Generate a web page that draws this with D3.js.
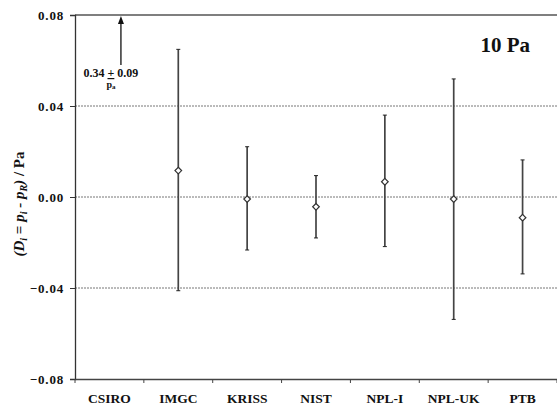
<!DOCTYPE html>
<html><head><meta charset="utf-8">
<script src="https://cdn.jsdelivr.net/npm/d3@7"></script>
<style>body{margin:0;background:#fff;}svg{display:block;}</style>
</head><body>
<svg id="c" width="557" height="408"></svg>
<script>
const categories = ["CSIRO","IMGC","KRISS","NIST","NPL-I","NPL-UK","PTB"];
const values = [null, 0.0116, -0.0009, -0.0043, 0.0067, -0.0009, -0.0091];
const upper = [null, 0.0649, 0.0221, 0.0094, 0.0360, 0.0519, 0.0163];
const lower = [null, -0.0412, -0.0233, -0.0180, -0.0218, -0.0538, -0.0338];
const yTicks = [0.08, 0.04, 0.00, -0.04, -0.08];
const gridTicks = [0.04, 0.00, -0.04];

const svg = d3.select("#c");
const x = d3.scaleBand().domain(categories).range([75, 557]).padding(0);
const y = d3.scaleLinear().domain([-0.08, 0.08]).range([379, 15]);

// grid
svg.selectAll(".grid").data(gridTicks).enter().append("line")
  .attr("x1", 75).attr("x2", 557)
  .attr("y1", d => y(d)).attr("y2", d => y(d))
  .attr("stroke", "#777").attr("stroke-width", 1).attr("stroke-dasharray", "2,1");
// top line
svg.append("line").attr("x1", 75).attr("x2", 557).attr("y1", y(0.08)).attr("y2", y(0.08))
  .attr("stroke", "#555").attr("stroke-width", 1.3);

// y axis
const ya = svg.append("g").attr("transform", "translate(75,0)")
  .call(d3.axisLeft(y).tickValues(yTicks).tickFormat(d3.format(".2f")).tickSize(5).tickPadding(6));
ya.select(".domain").attr("stroke", "#333").attr("stroke-width", 1.3);
ya.selectAll(".tick line").attr("stroke", "#333");
ya.selectAll("text").style("font-weight", "bold").style("font-size", "13px").style("letter-spacing", "0.8px").attr("fill", "#111");

// x axis
const xa = svg.append("g").attr("transform", `translate(0,${y(-0.08)})`)
  .call(d3.axisBottom(x).tickSize(0).tickPadding(14));
xa.select(".domain").attr("stroke", "#444").attr("stroke-width", 1.3);
xa.selectAll("text").style("font-weight", "bold").style("font-size", "13.5px").attr("fill", "#111");
// boundary ticks
const bounds = categories.map(c => x(c)).concat([x.range()[1]]);
svg.selectAll(".bt").data(bounds).enter().append("line")
  .attr("x1", d => d).attr("x2", d => d).attr("y1", y(-0.08)).attr("y2", y(-0.08) + 4)
  .attr("stroke", "#444");

// error bars
const data = categories.map((c, i) => ({c, v: values[i], hi: upper[i], lo: lower[i]})).filter(d => d.v !== null);
const cx = d => x(d.c) + x.bandwidth() / 2;
svg.selectAll(".eb").data(data).enter().append("line")
  .attr("x1", cx).attr("x2", cx).attr("y1", d => y(d.hi)).attr("y2", d => y(d.lo))
  .attr("stroke", "#444").attr("stroke-width", 1.7);
svg.selectAll(".capT").data(data).enter().append("line")
  .attr("x1", d => cx(d) - 2).attr("x2", d => cx(d) + 2).attr("y1", d => y(d.hi)).attr("y2", d => y(d.hi))
  .attr("stroke", "#222").attr("stroke-width", 1);
svg.selectAll(".capB").data(data).enter().append("line")
  .attr("x1", d => cx(d) - 2).attr("x2", d => cx(d) + 2).attr("y1", d => y(d.lo)).attr("y2", d => y(d.lo))
  .attr("stroke", "#222").attr("stroke-width", 1);
svg.selectAll(".pt").data(data).enter().append("path")
  .attr("d", d3.symbol(d3.symbolDiamond2, 28))
  .attr("transform", d => `translate(${cx(d)},${y(d.v)})`)
  .attr("fill", "#fff").attr("stroke", "#333").attr("stroke-width", 1.2);

// CSIRO annotation
const ax = x("CSIRO") + x.bandwidth() / 2 + 11.5;
svg.append("line").attr("x1", ax).attr("x2", ax).attr("y1", 65).attr("y2", 22)
  .attr("stroke", "#111").attr("stroke-width", 1.3);
svg.append("path").attr("d", `M${ax - 3},${24} L${ax},${16} L${ax + 3},${24} Z`).attr("fill", "#111");
const t = svg.append("text").attr("x", ax - 10).attr("y", 77).attr("text-anchor", "middle")
  .style("font-weight", "bold").style("font-size", "12px").attr("fill", "#111");
t.append("tspan").text("0.34 ");
t.append("tspan").attr("text-decoration", "underline").text("+");
t.append("tspan").text(" 0.09");
const t2 = svg.append("text").attr("x", ax - 10).attr("y", 88).attr("text-anchor", "middle")
  .style("font-weight", "bold").style("font-size", "10px").attr("fill", "#111");
t2.append("tspan").text("p");
t2.append("tspan").style("font-size", "7px").attr("dy", 1).text("a");

// 10 Pa
svg.append("text").attr("x", 530).attr("y", 52).attr("text-anchor", "end")
  .style("font-weight", "bold").style("font-size", "21px").attr("fill", "#111").text("10 Pa");

// y label
const yl = svg.append("text").attr("transform", "translate(24,204) rotate(-90)").attr("text-anchor", "middle")
  .style("font-weight", "bold").style("font-size", "15px").attr("fill", "#111");
yl.append("tspan").style("font-style", "italic").text("(D");
yl.append("tspan").style("font-style", "italic").style("font-size", "10px").attr("dy", 3).text("i");
yl.append("tspan").style("font-style", "italic").attr("dy", -3).text(" = p");
yl.append("tspan").style("font-style", "italic").style("font-size", "10px").attr("dy", 3).text("i");
yl.append("tspan").style("font-style", "italic").attr("dy", -3).text(" - p");
yl.append("tspan").style("font-style", "italic").style("font-size", "10px").attr("dy", 3).text("R");
yl.append("tspan").style("font-style", "italic").attr("dy", -3).text(")");
yl.append("tspan").text(" / Pa");

svg.selectAll("text").style("font-family", '"Liberation Serif"');
</script>
</body></html>
